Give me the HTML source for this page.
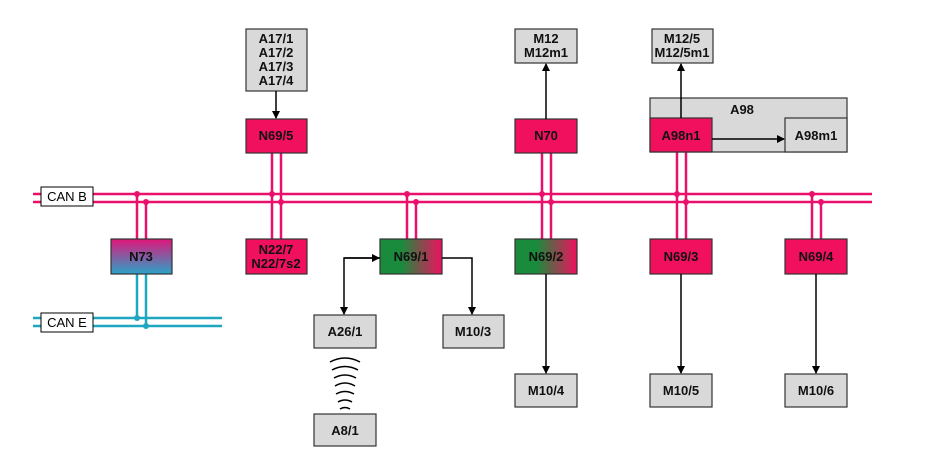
<!DOCTYPE html>
<html><head><meta charset="utf-8"><style>
html,body{margin:0;padding:0;background:#fff;}
svg{display:block;font-family:"Liberation Sans",Arial,sans-serif;}
.b{font-weight:bold;font-size:13px;text-anchor:middle;fill:#111;}
</style></head><body>
<svg width="939" height="470" viewBox="0 0 939 470" xmlns="http://www.w3.org/2000/svg">
<defs>
<linearGradient id="g73" x1="0" y1="0" x2="0" y2="1"><stop offset="0" stop-color="#e0167a"/><stop offset="1" stop-color="#2aa3c8"/></linearGradient>
<linearGradient id="gg" x1="0" y1="0" x2="1" y2="0"><stop offset="0" stop-color="#1a8a3c"/><stop offset="0.35" stop-color="#1a8a3c"/><stop offset="1" stop-color="#f0105e"/></linearGradient>
<marker id="ar" markerWidth="8" markerHeight="8" refX="7" refY="4" orient="auto" markerUnits="userSpaceOnUse"><path d="M0,0 L8,4 L0,8 z" fill="#000"/></marker>
</defs>
<g stroke="#e8106a" stroke-width="2.5" fill="none">
<line x1="33" y1="194" x2="872" y2="194"/>
<line x1="33" y1="202" x2="872" y2="202"/>
<line x1="137" y1="194" x2="137" y2="239"/><line x1="146" y1="202" x2="146" y2="239"/>
<line x1="272" y1="153" x2="272" y2="239"/><line x1="281" y1="153" x2="281" y2="239"/>
<line x1="407" y1="194" x2="407" y2="239"/><line x1="416" y1="202" x2="416" y2="239"/>
<line x1="542" y1="153" x2="542" y2="239"/><line x1="551" y1="153" x2="551" y2="239"/>
<line x1="677" y1="152" x2="677" y2="239"/><line x1="686" y1="152" x2="686" y2="239"/>
<line x1="812" y1="194" x2="812" y2="239"/><line x1="821" y1="202" x2="821" y2="239"/>
</g>
<g fill="#e8106a">
<circle cx="137" cy="194" r="3"/><circle cx="146" cy="202" r="3"/>
<circle cx="272" cy="194" r="3"/><circle cx="281" cy="202" r="3"/>
<circle cx="407" cy="194" r="3"/><circle cx="416" cy="202" r="3"/>
<circle cx="542" cy="194" r="3"/><circle cx="551" cy="202" r="3"/>
<circle cx="677" cy="194" r="3"/><circle cx="686" cy="202" r="3"/>
<circle cx="812" cy="194" r="3"/><circle cx="821" cy="202" r="3"/>
</g>
<g stroke="#1fa6c0" stroke-width="2.5" fill="none">
<line x1="33" y1="318" x2="222" y2="318"/>
<line x1="33" y1="326" x2="222" y2="326"/>
<line x1="137" y1="274" x2="137" y2="318"/><line x1="146" y1="274" x2="146" y2="326"/>
</g>
<g fill="#1fa6c0"><circle cx="137" cy="318" r="3"/><circle cx="146" cy="326" r="3"/></g>
<rect x="41" y="187" width="52" height="19" fill="#fff" stroke="#000"/>
<text x="67" y="201" font-size="13" text-anchor="middle">CAN B</text>
<rect x="41" y="313" width="52" height="19" fill="#fff" stroke="#000"/>
<text x="67" y="327" font-size="13" text-anchor="middle">CAN E</text>
<g stroke="#000" stroke-width="1.5" fill="none">
<path d="M330,362 Q345,354 360,362"/><path d="M332,370 Q345,363 358,370"/>
<path d="M334,378 Q345,372 356,378"/><path d="M335,386 Q345,380 355,386"/>
<path d="M336,394 Q345,389 354,394"/><path d="M338,402 Q345,398 352,402"/>
<path d="M340,409 Q345,406 350,409"/>
</g>
<g stroke="#333" stroke-width="1.2">
<rect x="246" y="29" width="61" height="62" fill="#d9d9d9"/>
<rect x="515" y="29" width="62" height="34" fill="#d9d9d9"/>
<rect x="652" y="29" width="61" height="34" fill="#d9d9d9"/>
<rect x="650" y="98" width="197" height="54" fill="#d9d9d9"/>
<rect x="785" y="118" width="62" height="34" fill="#d9d9d9"/>
<rect x="314" y="315" width="62" height="33" fill="#d9d9d9"/>
<rect x="443" y="315" width="61" height="33" fill="#d9d9d9"/>
<rect x="314" y="414" width="62" height="32" fill="#d9d9d9"/>
<rect x="515" y="374" width="62" height="33" fill="#d9d9d9"/>
<rect x="650" y="374" width="62" height="33" fill="#d9d9d9"/>
<rect x="785" y="374" width="62" height="33" fill="#d9d9d9"/>
<rect x="246" y="119" width="61" height="34" fill="#f0105e"/>
<rect x="515" y="119" width="62" height="34" fill="#f0105e"/>
<rect x="650" y="118" width="62" height="34" fill="#f0105e"/>
<rect x="111" y="239" width="61" height="35" fill="url(#g73)"/>
<rect x="246" y="239" width="61" height="35" fill="#f0105e"/>
<rect x="380" y="239" width="62" height="35" fill="url(#gg)"/>
<rect x="515" y="239" width="62" height="35" fill="url(#gg)"/>
<rect x="650" y="239" width="62" height="35" fill="#f0105e"/>
<rect x="785" y="239" width="62" height="35" fill="#f0105e"/>
</g>
<g stroke="#000" stroke-width="1.5" fill="none">
<line x1="276" y1="91" x2="276" y2="118" marker-end="url(#ar)"/>
<polyline points="380,258 344,258 344,314" marker-end="url(#ar)"/>
<line x1="344" y1="258" x2="379" y2="258" marker-end="url(#ar)"/>
<polyline points="442,258 472,258 472,314" marker-end="url(#ar)"/>
<line x1="546" y1="274" x2="546" y2="373" marker-end="url(#ar)"/>
<line x1="546" y1="119" x2="546" y2="64" marker-end="url(#ar)"/>
<line x1="681" y1="118" x2="681" y2="64" marker-end="url(#ar)"/>
<line x1="712" y1="139" x2="784" y2="139" marker-end="url(#ar)"/>
<line x1="681" y1="274" x2="681" y2="373" marker-end="url(#ar)"/>
<line x1="816" y1="274" x2="816" y2="373" marker-end="url(#ar)"/>
</g>
<text class="b" x="276" y="43">A17/1</text>
<text class="b" x="276" y="57">A17/2</text>
<text class="b" x="276" y="71">A17/3</text>
<text class="b" x="276" y="85">A17/4</text>
<text class="b" x="546" y="43">M12</text>
<text class="b" x="546" y="57">M12m1</text>
<text class="b" x="682" y="43">M12/5</text>
<text class="b" x="682" y="57">M12/5m1</text>
<text class="b" x="742" y="114">A98</text>
<text class="b" x="816" y="140">A98m1</text>
<text class="b" x="276" y="140">N69/5</text>
<text class="b" x="546" y="140">N70</text>
<text class="b" x="681" y="140">A98n1</text>
<text class="b" x="141" y="261">N73</text>
<text class="b" x="276" y="254">N22/7</text>
<text class="b" x="276" y="268">N22/7s2</text>
<text class="b" x="411" y="261">N69/1</text>
<text class="b" x="546" y="261">N69/2</text>
<text class="b" x="681" y="261">N69/3</text>
<text class="b" x="816" y="261">N69/4</text>
<text class="b" x="345" y="336">A26/1</text>
<text class="b" x="473" y="336">M10/3</text>
<text class="b" x="345" y="435">A8/1</text>
<text class="b" x="546" y="395">M10/4</text>
<text class="b" x="681" y="395">M10/5</text>
<text class="b" x="816" y="395">M10/6</text>
</svg>
</body></html>
